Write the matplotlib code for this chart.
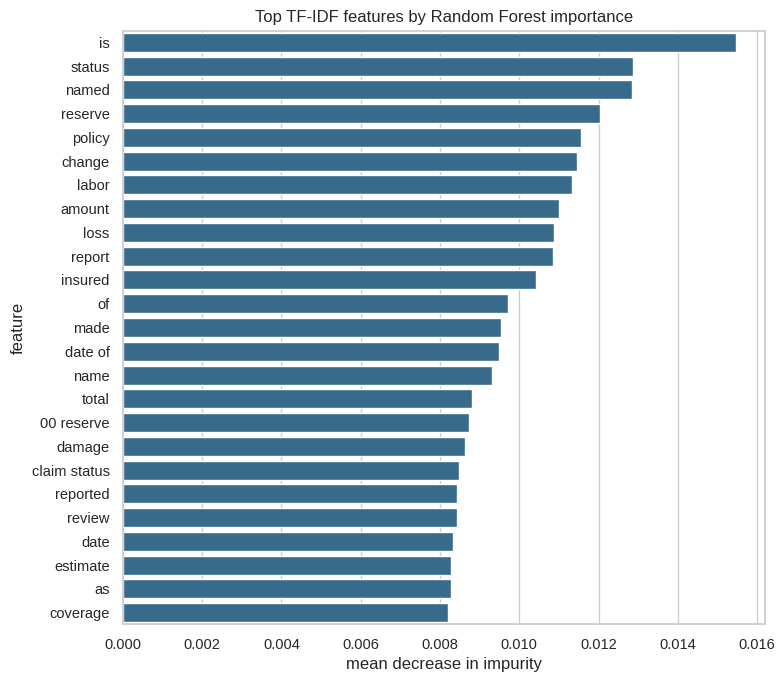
import matplotlib
matplotlib.use("Agg")
import matplotlib.pyplot as plt
import seaborn as sns
import pandas as pd

features = ["is", "status", "named", "reserve", "policy", "change", "labor",
            "amount", "loss", "report", "insured", "of", "made", "date of",
            "name", "total", "00 reserve", "damage", "claim status", "reported",
            "review", "date", "estimate", "as", "coverage"]
importance = [0.01548, 0.01287, 0.01285, 0.01203, 0.01155, 0.01145, 0.01134,
              0.01101, 0.01087, 0.01084, 0.01041, 0.00971, 0.00955, 0.00949,
              0.00930, 0.00882, 0.00872, 0.00864, 0.00847, 0.00842,
              0.00842, 0.00834, 0.00829, 0.00829, 0.00819]

df = pd.DataFrame({"feature": features, "importance": importance})

sns.set_theme(style="whitegrid")
plt.rcParams["font.family"] = ["Liberation Sans", "DejaVu Sans"]

fig = plt.figure(figsize=(7.83, 6.84), dpi=100)
ax = fig.add_axes([0.157, 0.087, 0.82, 0.8684])
sns.barplot(data=df, x="importance", y="feature", color="#386b8b",
            saturation=1, ax=ax)
ax.set_title("Top TF-IDF features by Random Forest importance", fontsize=12)
ax.set_xlabel("mean decrease in impurity", fontsize=12)
ax.set_ylabel("feature", fontsize=12)
ax.set_xlim(0, 0.0162)
ax.tick_params(labelsize=10.5)

fig.savefig("out.png", dpi=100)
